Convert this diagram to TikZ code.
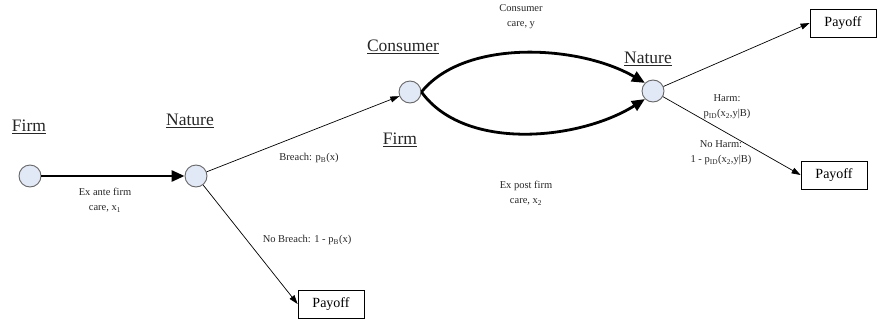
\documentclass[tikz,border=0pt]{standalone}
\usepackage{fontspec}
\setmainfont{Liberation Serif}
\usetikzlibrary{arrows.meta}
\definecolor{nodefill}{RGB}{226,233,246}

\begin{document}
\begin{tikzpicture}[x=1pt,y=-1pt,
  chance/.style={circle,draw=black!60,fill=nodefill,line width=0.9pt,minimum size=22pt,inner sep=0pt},
  payoff/.style={draw,line width=0.8pt,minimum width=66pt,minimum height=28pt,inner sep=0pt,font=\fontsize{14}{14}\selectfont},
  player/.style={font=\fontsize{17.5}{17.5}\selectfont,text=black!85},
  lab/.style={font=\fontsize{10.5}{15}\selectfont,align=center,text=black!85},
  move/.style={line width=2.8pt,-{Triangle[length=13pt,width=11pt]}},
  branch/.style={line width=0.7pt,-{Triangle[length=9pt,width=6pt]}}]

\useasboundingbox (0,0) rectangle (877,324);

% decision and chance nodes
\node[chance] (firm) at (30,176) {};
\node[chance] (nat1) at (196,176) {};
\node[chance] (cons) at (410,92) {};
\node[chance] (nat2) at (653,91) {};

\node[payoff] (pay1) at (331,304) {Payoff};
\node[payoff] (pay2) at (843,23) {Payoff};
\node[payoff] (pay3) at (834,175) {Payoff};

% players
\node[player] (lfirm) at (29,127) {\underline{Firm}};
\node[player] (lnat1) at (190,121) {\underline{Nature}};
\node[player] (lcons) at (403,47) {\underline{Consumer}};
\node[player] (lfirm2) at (400,140) {\underline{Firm}};
\node[player] (lnat2) at (648,59) {\underline{Nature}};

% moves
\draw[move] (firm) -- (nat1);
\draw[branch] (nat1) -- (cons);
\draw[branch] (nat1) -- (pay1.west);
\draw[move] (cons.east) .. controls (465,38) and (580,45) .. (nat2.north west);
\draw[move] (cons.east) .. controls (465,152) and (580,140) .. (nat2.south west);
\draw[branch] (nat2) -- (pay2.west);
\draw[branch] (nat2) -- (pay3.west);

% labels
\node[lab] (tex) at (105,200) {Ex ante firm\\care, x\textsubscript{1}};
\node[lab] (tbr) at (309,158) {Breach: p\textsubscript{B}(x)};
\node[lab] (tnb) at (307,240) {No Breach: 1 - p\textsubscript{B}(x)};
\node[lab] (tcc) at (521,17) {Consumer\\care, y};
\node[lab] (tep) at (526,193) {Ex post firm\\care, x\textsubscript{2}};
\node[lab] (thm) at (727,107) {Harm:\\p\textsubscript{ID}(x\textsubscript{2},y|B)};
\node[lab] (tnh) at (721,153) {No Harm:\\1 - p\textsubscript{ID}(x\textsubscript{2},y|B)};

\end{tikzpicture}
\end{document}
